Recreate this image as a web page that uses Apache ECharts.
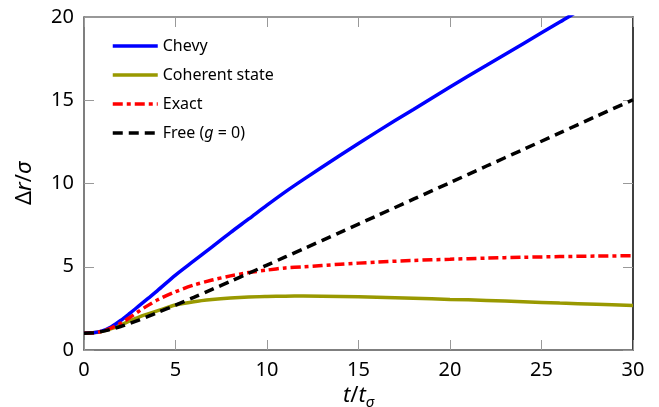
<!DOCTYPE html>
<html>
<head>
<meta charset="utf-8">
<script src="https://cdn.jsdelivr.net/npm/echarts@6/dist/echarts.min.js"></script>
<style>html,body{margin:0;padding:0;background:#fff}#c{width:659px;height:407px}</style>
</head>
<body>
<div id="c"></div>
<script>
var tValues = [0,0.5,1,1.5,2,2.5,3,3.5,4,5,6,7,8,9,10,11,12,14,16,18,20,22,24,26,28,30];
var chevy   = [1,1.04,1.15,1.4,1.77,2.2,2.65,3.1,3.55,4.5,5.35,6.2,7.05,7.87,8.7,9.5,10.25,11.7,13.1,14.45,15.8,17.1,18.4,19.7,21.0,22.2];
var coherent= [1,1.03,1.12,1.28,1.5,1.75,1.98,2.17,2.35,2.7,2.9,3.03,3.12,3.18,3.21,3.23,3.24,3.22,3.17,3.11,3.04,2.98,2.9,2.82,2.75,2.68];
var exact   = [1,1.03,1.13,1.33,1.6,1.95,2.33,2.68,3.0,3.5,3.9,4.2,4.45,4.65,4.8,4.93,5.0,5.15,5.28,5.38,5.45,5.52,5.57,5.61,5.64,5.66];
var free    = [1,1.03,1.12,1.25,1.41,1.6,1.8,2.02,2.24,2.69,3.16,3.64,4.12,4.61,5.10,5.59,6.08,7.07,8.06,9.06,10.05,11.05,12.04,13.04,14.04,15.03];
var xTicks = [0,5,10,15,20,25,30];
var yTicks = [0,5,10,15,20];
var seriesNames = ['Chevy','Coherent state','Exact','Free (g = 0)'];

function pairs(v){ return tValues.map(function(t,i){ return [t, v[i]]; }); }
var FONT = 'Noto Sans';
var axisCommon = {
  type:'value', splitLine:{show:false},
  axisTick:{show:true, inside:true, length:10, lineStyle:{color:'#999', width:1}},
};
var chart = echarts.init(document.getElementById('c'));
chart.setOption({
  animation:false,
  grid:{left:84, right:26, top:17, bottom:57, containLabel:false, outerBoundsMode:'none'},
  legend:{
    orient:'vertical', left:106, top:33, itemWidth:45, itemHeight:14, itemGap:13,
    data:seriesNames,
    itemStyle:{opacity:0},
    lineStyle:{width:3.5},
    textStyle:{fontFamily:FONT, fontSize:16, color:'#000',
      rich:{n:{fontFamily:FONT,fontSize:16,color:'#000'}, i:{fontFamily:FONT,fontSize:16,fontStyle:'italic',color:'#000'}}},
    formatter:function(name){
      if(name.indexOf('(g')>=0) return '{n|Free (}{i|g}{n| = 0)}';
      return name;
    }
  },
  xAxis:[
    Object.assign({}, axisCommon, {position:'bottom', min:0, max:30, interval:5,
      axisLine:{show:true, onZero:false, lineStyle:{color:'#555', width:1.5}},
      axisLabel:{fontFamily:FONT, fontSize:20, color:'#000', margin:10},
      name:'{i|t}{n|/}{i|t}{s|σ}', nameLocation:'middle', nameGap:24,
      nameTextStyle:{rich:{
        n:{fontFamily:FONT,fontSize:22,color:'#000',lineHeight:28},
        i:{fontFamily:FONT,fontSize:22,fontStyle:'italic',color:'#000',lineHeight:28},
        s:{fontFamily:FONT,fontSize:15,fontStyle:'italic',color:'#000',lineHeight:14,verticalAlign:'bottom'}}}
    }),
    Object.assign({}, axisCommon, {position:'top', min:0, max:30, interval:5,
      axisLine:{show:true, onZero:false, lineStyle:{color:'#777', width:1.5}}, axisLabel:{show:false}})
  ],
  yAxis:[
    Object.assign({}, axisCommon, {position:'left', min:0, max:20, interval:5,
      axisLine:{show:true, onZero:false, lineStyle:{color:'#555', width:1.5}},
      axisLabel:{fontFamily:FONT, fontSize:20, color:'#000', margin:10},
      name:'{n|Δ}{i|r}{n|/}{i|σ}', nameLocation:'middle', nameGap:48,
      nameTextStyle:{rich:{
        n:{fontFamily:FONT,fontSize:22,color:'#000'},
        i:{fontFamily:FONT,fontSize:22,fontStyle:'italic',color:'#000'}}}
    }),
    Object.assign({}, axisCommon, {position:'right', min:0, max:20, interval:5,
      axisLine:{show:true, onZero:false, lineStyle:{color:'#000', width:1.5}}, axisLabel:{show:false}})
  ],
  series:[
    {name:seriesNames[0], type:'line', data:pairs(chevy), showSymbol:false, symbol:'none', smooth:0.3,
      lineStyle:{color:'#0000ff', width:3.5}, itemStyle:{color:'#0000ff'}, z:4},
    {name:seriesNames[1], type:'line', data:pairs(coherent), showSymbol:false, symbol:'none', smooth:0.3,
      lineStyle:{color:'#999900', width:3.5}, itemStyle:{color:'#999900'}, z:3},
    {name:seriesNames[2], type:'line', data:pairs(exact), showSymbol:false, symbol:'none', smooth:0.3,
      lineStyle:{color:'#ff0000', width:3.5, type:[10,4,4,4]}, itemStyle:{color:'#ff0000'}, z:5},
    {name:seriesNames[3], type:'line', data:pairs(free), showSymbol:false, symbol:'none', smooth:0.3,
      lineStyle:{color:'#000000', width:3.5, type:[10,6]}, itemStyle:{color:'#000000'}, z:6}
  ]
});
</script>
</body>
</html>
